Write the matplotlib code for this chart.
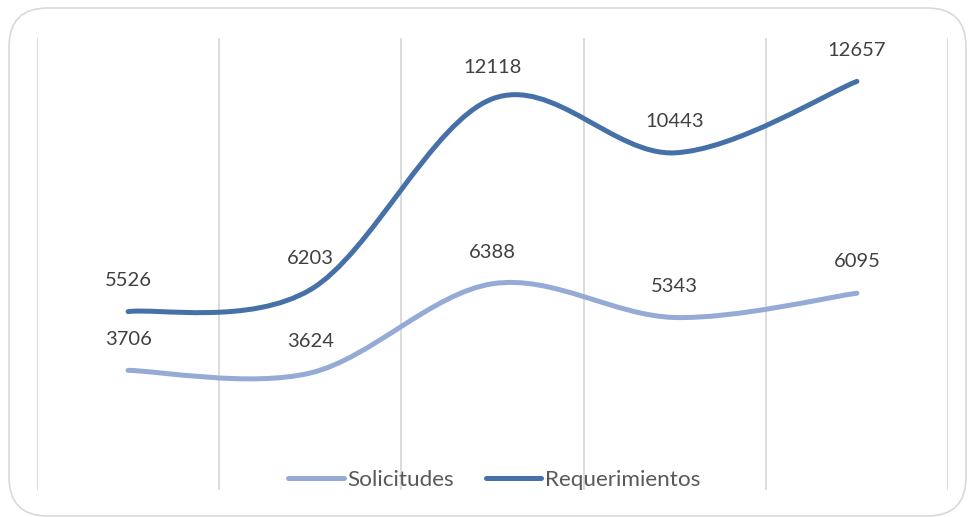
import matplotlib as mpl
mpl.use('Agg')
import matplotlib.pyplot as plt
from matplotlib.path import Path
from matplotlib.patches import PathPatch, FancyBboxPatch
from matplotlib.lines import Line2D

categorias = [0, 1, 2, 3, 4]
solicitudes = [3706, 3624, 6388, 5343, 6095]
requerimientos = [5526, 6203, 12118, 10443, 12657]
series = ["Solicitudes", "Requerimientos"]
colores = ["#95abd5", "#4571a8"]

plt.rcParams['font.family'] = ['Lato', 'DejaVu Sans']


def curva_suave(xs, ys):
    # bezier tipo Excel (catmull-rom) pasando por los puntos
    n = len(xs)
    pts = list(zip(xs, ys))
    verts = [pts[0]]
    codes = [Path.MOVETO]
    for i in range(n - 1):
        p0 = pts[max(i - 1, 0)]
        p1 = pts[i]
        p2 = pts[i + 1]
        p3 = pts[min(i + 2, n - 1)]
        c1 = (p1[0] + (p2[0] - p0[0]) / 6, p1[1] + (p2[1] - p0[1]) / 6)
        c2 = (p2[0] - (p3[0] - p1[0]) / 6, p2[1] - (p3[1] - p1[1]) / 6)
        verts += [c1, c2, p2]
        codes += [Path.CURVE4] * 3
    return Path(verts, codes)


fig = plt.figure(figsize=(9.69, 5.17), dpi=100)
ax = fig.add_axes([37 / 969, 1 - 490 / 517, (948 - 37) / 969, (490 - 38) / 517])

borde = FancyBboxPatch((9 / 969, 1 / 517), 957 / 969, 508 / 517,
                       boxstyle="round,pad=0,rounding_size=0.04",
                       transform=fig.transFigure, facecolor='none',
                       edgecolor='#d9d9d9', linewidth=1.2, mutation_aspect=969 / 517)
fig.patches.append(borde)

for g in [-0.5, 0.5, 1.5, 2.5, 3.5, 4.5]:
    ax.axvline(g, color='#d9d9d9', linewidth=1.3, zorder=0)

for datos, color in zip([solicitudes, requerimientos], colores):
    ax.add_patch(PathPatch(curva_suave(categorias, datos), facecolor='none',
                           edgecolor=color, linewidth=3.6, capstyle='round', zorder=3))
    for x, y in zip(categorias, datos):
        ax.annotate(str(y), (x, y), xytext=(0, 22.5), textcoords='offset points',
                    ha='center', va='center', fontsize=14.5, color='#404040')

ax.set_xlim(-0.5, 4.5)
ax.set_ylim(0, 14000)
ax.axis('off')

handles = [Line2D([], [], color=c, linewidth=3.6, solid_capstyle='round') for c in colores]
ax.legend(handles, series, loc='center', bbox_to_anchor=(0.502, 0.022), ncol=2,
          frameon=False, fontsize=16.2, handlelength=2.45, handletextpad=0.18,
          columnspacing=1.4, labelcolor='#595959')

fig.savefig('out.png', dpi=100)
